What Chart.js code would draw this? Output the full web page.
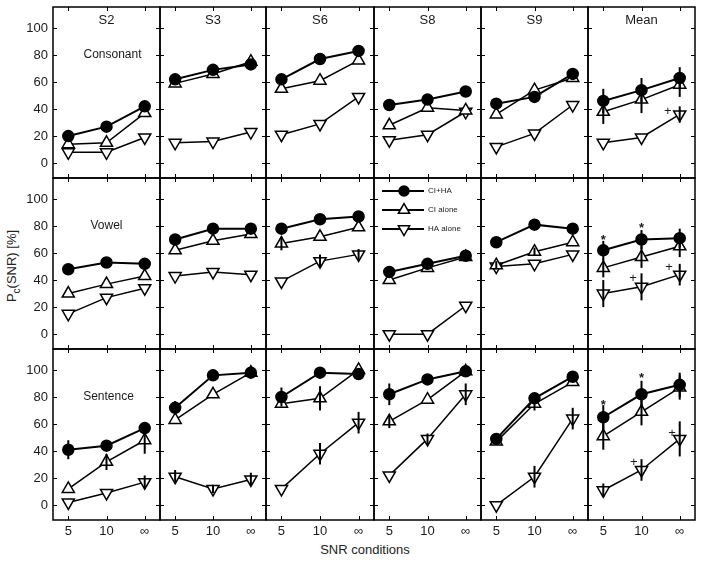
<!DOCTYPE html>
<html><head><meta charset="utf-8">
<script src="https://cdn.jsdelivr.net/npm/chart.js@4"></script>
<style>
body{margin:0;background:#fff;width:702px;height:564px;overflow:hidden;position:relative;font-family:"Liberation Sans",Arial,sans-serif;}
canvas{position:absolute;}
#xt{position:absolute;left:265px;width:200px;top:542px;line-height:15px;text-align:center;font-size:13px;color:#222;}
#yt{position:absolute;left:14px;top:266px;transform:translate(-50%,-50%) rotate(-90deg);white-space:nowrap;font-size:13px;color:#222;line-height:15px;}
#yt sub{font-size:10px;}
</style></head><body>
<div id="xt">SNR conditions</div>
<div id="yt">P<sub>c</sub>(SNR) [%]</div>
<script>
const panels=['S2','S3','S6','S8','S9','Mean'];
const conditionLabels=['5','10','∞'];
const seriesNames=['CI+HA','CI alone','HA alone'];
const rowNames=['Consonant','Vowel','Sentence'];
const yTicks=[0,20,40,60,80,100];

const consonantCIHA=[[20,27,42],[62,69,73],[62,77,83],[43,47,53],[44,49,66],[46,54,63]];
const consonantCI=[[14,15,37],[59,66,75],[55,61,76],[28,41,39],[36,54,63],[38,47,58]];
const consonantHA=[[8,8,19],[15,16,23],[21,29,49],[17,21,38],[12,22,43],[15,19,36]];
const consonantErrCIHA=[[0,0,0],[0,0,0],[0,0,0],[0,0,0],[0,0,0],[9,9,8]];
const consonantErrCI=[[0,0,0],[0,0,0],[0,0,0],[0,0,0],[0,0,0],[9,10,9]];
const consonantErrHA=[[0,0,0],[0,0,0],[0,0,0],[0,0,0],[0,0,0],[0,0,6]];

const vowelCIHA=[[48,53,52],[70,78,78],[78,85,87],[46,52,58],[68,81,78],[62,70,71]];
const vowelCI=[[30,37,43],[62,69,74],[67,72,79],[40,49,57],[51,61,68],[49,57,65]];
const vowelHA=[[15,27,34],[43,46,44],[39,54,59],[0,0,21],[50,52,59],[30,35,44]];
const vowelErrCIHA=[[0,0,0],[0,0,0],[0,0,0],[0,0,0],[0,0,0],[7,7,7]];
const vowelErrCI=[[0,0,0],[0,0,0],[5,0,0],[0,0,0],[3,3,0],[7,8,8]];
const vowelErrHA=[[0,0,0],[0,0,0],[0,5,4],[0,0,0],[0,0,0],[10,10,8]];

const sentenceCIHA=[[41,44,57],[72,96,98],[80,98,97],[82,93,99],[49,79,95],[65,82,89]];
const sentenceCI=[[12,32,48],[63,82,98],[75,79,100],[62,78,99],[47,75,91],[51,69,87]];
const sentenceHA=[[2,9,17],[21,12,19],[12,38,61],[22,49,82],[0,21,64],[11,26,49]];
const sentenceErrCIHA=[[7,3,0],[5,0,0],[7,0,0],[8,0,0],[0,0,0],[9,10,9]];
const sentenceErrCI=[[0,6,10],[0,0,0],[0,9,0],[5,0,0],[0,5,0],[10,10,9]];
const sentenceErrHA=[[0,0,5],[5,3,5],[0,8,8],[0,4,8],[0,8,8],[5,8,13]];

// significance marks in Mean panels: [row, x (condition index), y (%), symbol]
const significanceMarks=[
  [0,1.69,39,'+'],
  [1,0,72,'*'],[1,1,81,'*'],[1,0.78,42,'+'],[1,1.72,50,'+'],
  [2,0,77,'*'],[2,1,97,'*'],[2,0.8,32,'+'],[2,1.8,54,'+']
];

const rowValues=[[consonantCIHA,consonantCI,consonantHA],[vowelCIHA,vowelCI,vowelHA],[sentenceCIHA,sentenceCI,sentenceHA]];
const rowErrors=[[consonantErrCIHA,consonantErrCI,consonantErrHA],[vowelErrCIHA,vowelErrCI,vowelErrHA],[sentenceErrCIHA,sentenceErrCI,sentenceErrHA]];

const xb=[53,160,266,374,481,588,695];
const yb=[7,178,349,520];
const PAD=2;
const FONT='"Liberation Sans", Arial, sans-serif';
const TXT='#1a1a1a';
const rowLabelDx=[6,0,2];

function drawMarker(ctx,s,x,y,r){
  ctx.beginPath();
  if(s===0){ctx.arc(x,y,r,0,Math.PI*2);ctx.fillStyle='#000';}
  else{
    const rot=s===2?Math.PI:0;
    for(let k=0;k<3;k++){const a=rot+k*2*Math.PI/3;const px=x+Math.sin(a)*r,py=y-Math.cos(a)*r;k?ctx.lineTo(px,py):ctx.moveTo(px,py);}
    ctx.closePath();ctx.fillStyle='#fff';
  }
  ctx.fill();ctx.lineWidth=1.5;ctx.strokeStyle='#000';ctx.stroke();
}

for(let r=0;r<3;r++){
  for(let c=0;c<6;c++){
    const left=c===0?0:xb[c]-PAD, right=xb[c+1]+PAD;
    const top=yb[r]-PAD, bottom=r===2?564:yb[r+1]+PAD;
    const cv=document.createElement('canvas');
    cv.width=right-left;cv.height=bottom-top;
    cv.style.left=left+'px';cv.style.top=top+'px';
    document.body.appendChild(cv);
    const errs=rowErrors[r];
    const deco={
      id:'deco'+r+c,
      afterDatasetsDraw(chart){
        const ctx=chart.ctx,a=chart.chartArea,xs=chart.scales.x,ys=chart.scales.y;
        ctx.save();
        // error bars
        ctx.strokeStyle='#000';ctx.lineWidth=2;
        for(let s=0;s<3;s++){
          const vals=rowValues[r][s][c],e=errs[s][c];
          for(let i=0;i<3;i++){
            if(!e[i])continue;
            const px=xs.getPixelForValue(i);
            ctx.beginPath();
            ctx.moveTo(px,ys.getPixelForValue(vals[i]-e[i]));
            ctx.lineTo(px,ys.getPixelForValue(vals[i]+e[i]));
            ctx.stroke();
          }
        }
        // frame
        ctx.lineWidth=1.5;
        ctx.strokeRect(a.left,a.top,a.right-a.left,a.bottom-a.top);
        // inward ticks
        ctx.lineWidth=1;
        ctx.beginPath();
        yTicks.forEach(v=>{const py=Math.round(ys.getPixelForValue(v))+0.5;
          ctx.moveTo(a.left,py);ctx.lineTo(a.left+4,py);ctx.moveTo(a.right-4,py);ctx.lineTo(a.right,py);});
        [0,1,2].forEach(v=>{const px=Math.round(xs.getPixelForValue(v))+0.5;
          ctx.moveTo(px,a.top);ctx.lineTo(px,a.top+4);ctx.moveTo(px,a.bottom-4);ctx.lineTo(px,a.bottom);});
        ctx.stroke();
        // titles
        ctx.fillStyle=TXT;ctx.textAlign='center';ctx.textBaseline='middle';
        const cx=(a.left+a.right)/2;
        if(r===0){ctx.font='13px '+FONT;ctx.fillText(panels[c],cx,a.top+13);}
        if(c===0){ctx.font='12px '+FONT;ctx.fillText(rowNames[r],cx+rowLabelDx[r],a.top+48);}
        // significance marks
        if(c===5){
          significanceMarks.filter(m=>m[0]===r).forEach(m=>{
            const px=xs.getPixelForValue(m[1]),py=ys.getPixelForValue(m[2]);
            ctx.textBaseline='alphabetic';
            if(m[3]==='*'){ctx.font='bold 13px '+FONT;ctx.fillText('*',px,py+7.5);}
            else{ctx.font='13px '+FONT;ctx.fillText('+',px,py+4.5);}
          });
        }
        // legend
        if(r===1&&c===3){
          const ly=[13,32,51];
          for(let s=0;s<3;s++){
            const y=a.top+ly[s];
            ctx.strokeStyle='#000';ctx.lineWidth=2;
            ctx.beginPath();ctx.moveTo(a.left+8,y);ctx.lineTo(a.left+50,y);ctx.stroke();
            drawMarker(ctx,s,a.left+30,y,s===0?5:6.5);
            ctx.fillStyle=TXT;ctx.font='8px '+FONT;ctx.textAlign='left';ctx.textBaseline='middle';
            ctx.fillText(seriesNames[s],a.left+54,y);
          }
        }
        ctx.restore();
      }
    };
    const datasets=[0,1,2].map(s=>({
      label:seriesNames[s],
      data:rowValues[r][s][c].map((v,i)=>({x:i,y:v})),
      borderColor:'#000',borderWidth:s===0?2:1.5,
      pointStyle:s===0?'circle':'triangle',pointRotation:s===2?180:0,
      pointRadius:s===0?5.5:7,pointBackgroundColor:s===0?'#000':'#fff',
      pointBorderColor:'#000',pointBorderWidth:1.5,fill:false,tension:0,clip:false
    }));
    new Chart(cv,{
      type:'line',
      data:{datasets},
      plugins:[deco],
      options:{
        responsive:false,animation:false,devicePixelRatio:1,
        layout:{autoPadding:false,padding:{left:c===0?0:PAD,right:PAD,top:PAD,bottom:r===2?0:PAD}},
        plugins:{legend:{display:false},tooltip:{enabled:false}},
        scales:{
          x:{type:'linear',min:-0.4,max:2.4,display:r===2,
             afterBuildTicks:s=>{s.ticks=[0,1,2].map(v=>({value:v}));},
             ticks:{callback:v=>conditionLabels[v],autoSkip:false,maxRotation:0,padding:4,color:TXT,font:{family:FONT,size:13}},
             grid:{display:false,drawTicks:false},border:{display:false},
             afterFit:s=>{if(r===2){s.height=44;}s.paddingLeft=0;s.paddingRight=0;}},
          y:{type:'linear',min:-11,max:115.5,display:c===0,
             afterBuildTicks:s=>{s.ticks=yTicks.map(v=>({value:v}));},
             ticks:{padding:5,color:TXT,font:{family:FONT,size:13}},
             grid:{display:false,drawTicks:false},border:{display:false},
             afterFit:s=>{if(c===0){s.width=53;}s.paddingTop=0;s.paddingBottom=0;}}
        }
      }
    });
  }
}
</script>
</body></html>
